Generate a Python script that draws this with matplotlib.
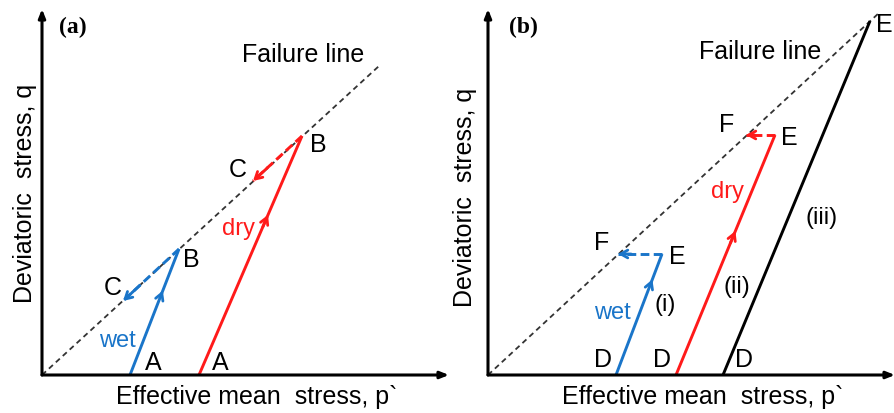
import matplotlib.pyplot as plt

# schematic stress paths, units = arbitrary (p`, q)
fail_a = [0, 337, 309]           # x0, x1, slope-end y
fail_b = [0, 392, 363]

# panel (a)
wet_a = [[88, 0], [137, 126]]    # A -> B
wet_a_c = [[137, 126], [81, 74]] # B -> C
dry_a = [[157, 0], [260, 239]]
dry_a_c = [[260, 239], [211, 194]]

# panel (b)
wet_b = [[128, 0], [174, 121]]   # D -> E
wet_b_f = [[174, 121], [130, 121]]
dry_b = [[188, 0], [287, 240]]
dry_b_f = [[287, 240], [258, 240]]
blk_b = [[235, 0], [382, 354]]

BLUE = '#1a75c9'
RED = '#ff1a1a'
W, H = 8.95, 4.14

plt.rcParams['font.family'] = ['Liberation Sans', 'DejaVu Sans']
fig = plt.figure(figsize=(W, H), dpi=100)


def make_ax(left_px):
    ax = fig.add_axes([left_px / 895., 38 / 414., 407 / 895., 366 / 414.])
    ax.set_xlim(0, 407)
    ax.set_ylim(0, 366)
    ax.axis('off')
    # axes with arrow heads
    ax.annotate('', xy=(0, 1.0), xytext=(0, 0), xycoords='axes fraction',
                arrowprops=dict(arrowstyle='-|>,head_length=0.5,head_width=0.2',
                                lw=2.2, color='black', shrinkA=0, shrinkB=0))
    ax.annotate('', xy=(1.0, 0), xytext=(0, 0), xycoords='axes fraction',
                arrowprops=dict(arrowstyle='-|>,head_length=0.5,head_width=0.2',
                                lw=2.2, color='black', shrinkA=0, shrinkB=0))
    return ax


def path(ax, seg, color, ls='-', frac=None):
    xs = [seg[0][0], seg[1][0]]
    ys = [seg[0][1], seg[1][1]]
    ax.plot(xs, ys, color=color, lw=2.1, ls=ls, solid_capstyle='butt',
            dashes=(3, 1.5) if ls == '--' else (None, None))
    if frac is not None:
        x = xs[0] + (xs[1] - xs[0]) * frac
        y = ys[0] + (ys[1] - ys[0]) * frac
        x0 = xs[0] + (xs[1] - xs[0]) * (frac - 0.05)
        y0 = ys[0] + (ys[1] - ys[0]) * (frac - 0.05)
        ax.annotate('', xy=(x, y), xytext=(x0, y0),
                    arrowprops=dict(arrowstyle='->,head_length=0.5,head_width=0.28',
                                    lw=2, color=color, shrinkA=0, shrinkB=0))


def end_arrow(ax, seg, color):
    (x1, y1), (x2, y2) = seg
    ax.annotate('', xy=(x2, y2), xytext=(x2 + (x1 - x2) * 0.3, y2 + (y1 - y2) * 0.3),
                arrowprops=dict(arrowstyle='->,head_length=0.5,head_width=0.28',
                                lw=2, color=color, shrinkA=0, shrinkB=0))


fs = 18
fs2 = 17
# ---------------- (a)
ax = make_ax(42)
ax.plot([fail_a[0], fail_a[1]], [0, fail_a[2]], color='#333333', lw=1.3, ls='--', dashes=(3, 2.2))
path(ax, wet_a, BLUE, frac=0.67)
path(ax, wet_a_c, BLUE, ls='--')
end_arrow(ax, wet_a_c, BLUE)
path(ax, dry_a, RED, frac=0.67)
path(ax, dry_a_c, RED, ls='--')
end_arrow(ax, dry_a_c, RED)
ax.text(111, 13, 'A', fontsize=fs, ha='center', va='center')
ax.text(178, 13, 'A', fontsize=fs, ha='center', va='center')
ax.text(149, 116, 'B', fontsize=fs, ha='center', va='center')
ax.text(71, 88, 'C', fontsize=fs, ha='center', va='center')
ax.text(276, 231, 'B', fontsize=fs, ha='center', va='center')
ax.text(196, 206, 'C', fontsize=fs, ha='center', va='center')
ax.text(75, 35, 'wet', fontsize=fs2, color=BLUE, ha='center', va='center')
ax.text(197, 147, 'dry', fontsize=fs2, color=RED, ha='center', va='center')
ax.text(261, 321, 'Failure line', fontsize=fs, ha='center', va='center')
ax.text(31, 349, '(a)', fontsize=17, fontweight='bold', family='Liberation Serif',
        ha='center', va='center')
ax.text(215, -21, 'Effective mean  stress, p`', fontsize=fs, ha='center', va='center')
ax.text(-17, 183, 'Deviatoric  stress, q', fontsize=fs, ha='center', va='center', rotation=90)

# ---------------- (b)
ax = make_ax(488)
ax.plot([fail_b[0], fail_b[1]], [0, fail_b[2]], color='#333333', lw=1.3, ls='--', dashes=(3, 2.2))
path(ax, wet_b, BLUE, frac=0.79)
path(ax, wet_b_f, BLUE, ls='--')
end_arrow(ax, wet_b_f, BLUE)
path(ax, dry_b, RED, frac=0.6)
path(ax, dry_b_f, RED, ls='--')
end_arrow(ax, dry_b_f, RED)
path(ax, blk_b, 'black')
ax.text(115, 16, 'D', fontsize=fs, ha='center', va='center')
ax.text(174, 16, 'D', fontsize=fs, ha='center', va='center')
ax.text(256, 16, 'D', fontsize=fs, ha='center', va='center')
ax.text(189, 119, 'E', fontsize=fs, ha='center', va='center')
ax.text(114, 133, 'F', fontsize=fs, ha='center', va='center')
ax.text(301, 238, 'E', fontsize=fs, ha='center', va='center')
ax.text(239, 251, 'F', fontsize=fs, ha='center', va='center')
ax.text(396, 351, 'E', fontsize=fs, ha='center', va='center')
ax.text(124, 63, 'wet', fontsize=fs2, color=BLUE, ha='center', va='center')
ax.text(240, 184, 'dry', fontsize=fs2, color=RED, ha='center', va='center')
ax.text(177, 71, '(i)', fontsize=fs2, ha='center', va='center')
ax.text(249, 89, '(ii)', fontsize=fs2, ha='center', va='center')
ax.text(334, 158, '(iii)', fontsize=fs2, ha='center', va='center')
ax.text(272, 324, 'Failure line', fontsize=fs, ha='center', va='center')
ax.text(35, 349, '(b)', fontsize=17, fontweight='bold', family='Liberation Serif',
        ha='center', va='center')
ax.text(215, -21, 'Effective mean  stress, p`', fontsize=fs, ha='center', va='center')
ax.text(-23, 179, 'Deviatoric  stress, q', fontsize=fs, ha='center', va='center', rotation=90)

plt.savefig('out.png', dpi=100)
